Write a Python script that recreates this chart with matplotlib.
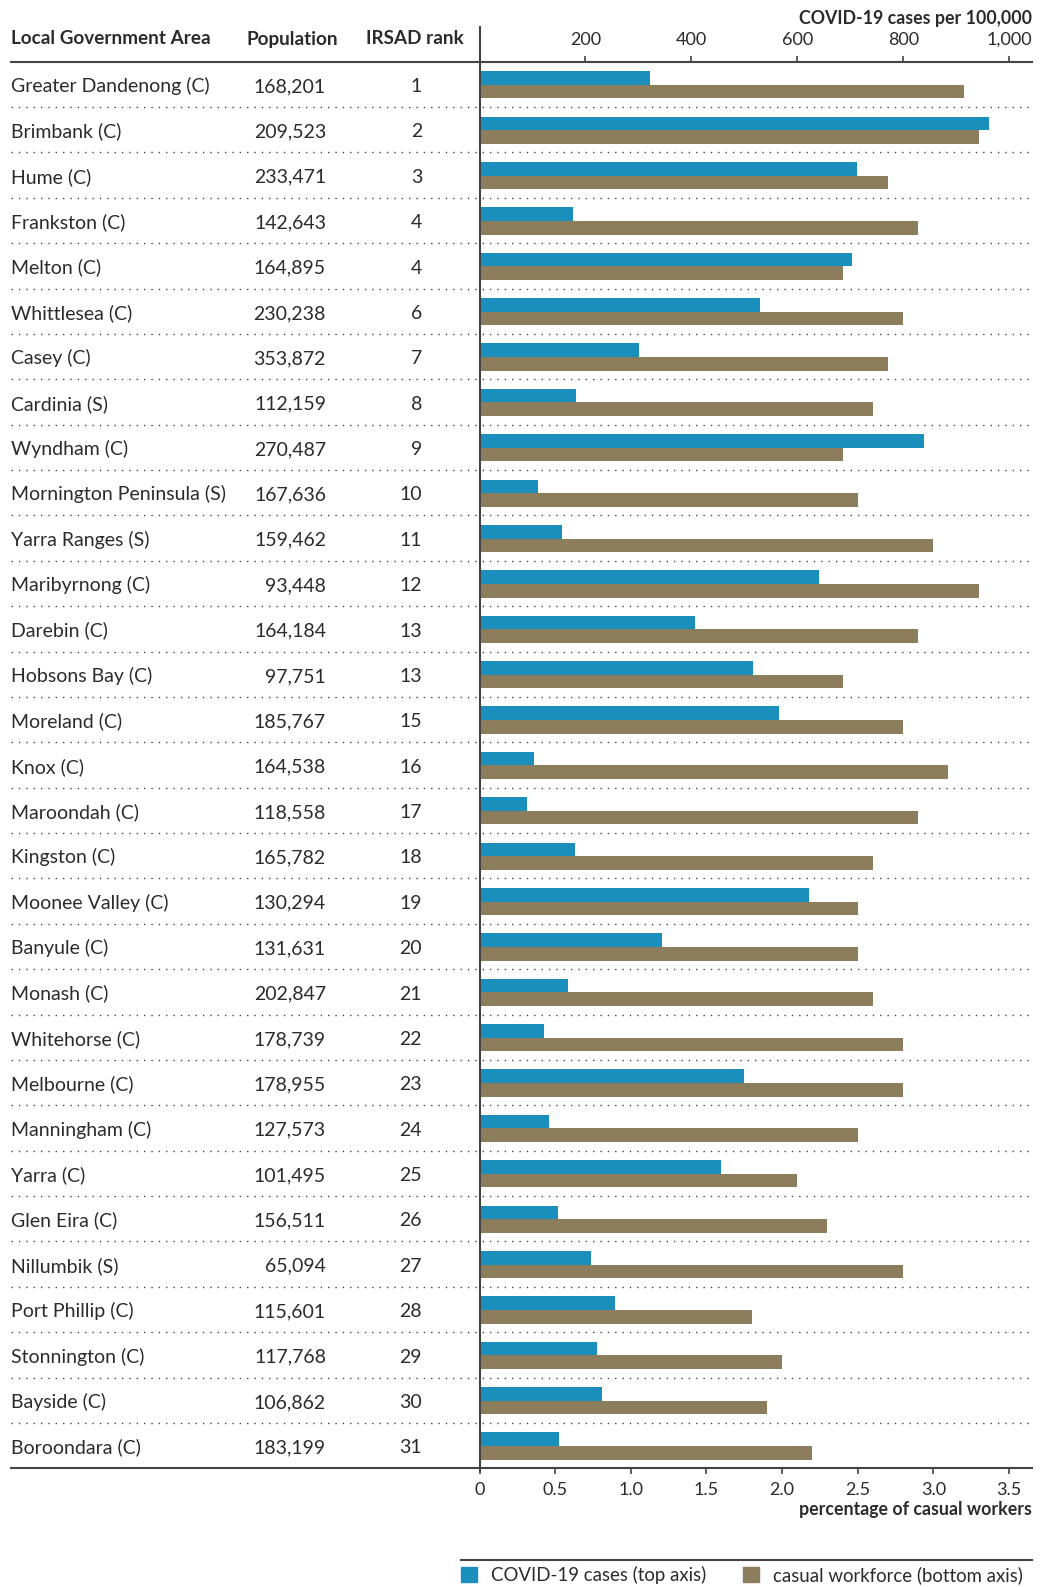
import numpy as np
import matplotlib
matplotlib.use("Agg")
import matplotlib.pyplot as plt
from matplotlib import transforms
from matplotlib.lines import Line2D

plt.rcParams["font.family"] = ["Lato", "DejaVu Sans"]

areas = [
    "Greater Dandenong (C)", "Brimbank (C)", "Hume (C)", "Frankston (C)",
    "Melton (C)", "Whittlesea (C)", "Casey (C)", "Cardinia (S)", "Wyndham (C)",
    "Mornington Peninsula (S)", "Yarra Ranges (S)", "Maribyrnong (C)",
    "Darebin (C)", "Hobsons Bay (C)", "Moreland (C)", "Knox (C)",
    "Maroondah (C)", "Kingston (C)", "Moonee Valley (C)", "Banyule (C)",
    "Monash (C)", "Whitehorse (C)", "Melbourne (C)", "Manningham (C)",
    "Yarra (C)", "Glen Eira (C)", "Nillumbik (S)", "Port Phillip (C)",
    "Stonnington (C)", "Bayside (C)", "Boroondara (C)",
]
population = [
    168201, 209523, 233471, 142643, 164895, 230238, 353872, 112159, 270487,
    167636, 159462, 93448, 164184, 97751, 185767, 164538, 118558, 165782,
    130294, 131631, 202847, 178739, 178955, 127573, 101495, 156511, 65094,
    115601, 117768, 106862, 183199,
]
irsad_rank = [
    1, 2, 3, 4, 4, 6, 7, 8, 9, 10, 11, 12, 13, 13, 15, 16, 17, 18, 19, 20,
    21, 22, 23, 24, 25, 26, 27, 28, 29, 30, 31,
]
# COVID-19 cases per 100,000 (top axis)
covid_cases = [
    321, 961, 712, 176, 702, 529, 301, 182, 838, 110, 155, 640, 406, 517,
    565, 102, 89, 180, 621, 344, 167, 121, 499, 131, 455, 148, 210, 255,
    221, 231, 150,
]
# percentage of casual workers (bottom axis)
casual_pct = [
    3.2, 3.3, 2.7, 2.9, 2.4, 2.8, 2.7, 2.6, 2.4, 2.5, 3.0, 3.3, 2.9, 2.4,
    2.8, 3.1, 2.9, 2.6, 2.5, 2.5, 2.6, 2.8, 2.8, 2.5, 2.1, 2.3, 2.8, 1.8,
    2.0, 1.9, 2.2,
]

BLUE = "#1a8fbb"
BROWN = "#8c7d5c"
INK = "#2b2b2b"
RULE = "#444444"
FS = 14

W, H = 1040, 1587
fig = plt.figure(figsize=(W / 100, H / 100), dpi=100)


def fx(px):
    return px / W


def fy(py):
    return 1 - py / H


AX_L, AX_R, AX_T, AX_B = 479.5, 1031.7, 61.7, 1468.3
TABLE_L = 11

ax = fig.add_axes([fx(AX_L), fy(AX_B), fx(AX_R) - fx(AX_L), fy(AX_T) - fy(AX_B)])
top = ax.twiny()

n = len(areas)
rows = np.arange(n)

top.barh(rows - 0.29, covid_cases, height=0.3, align="edge", color=BLUE, zorder=3)
ax.barh(rows + 0.01, casual_pct, height=0.3, align="edge", color=BROWN, zorder=3)

ax.set_ylim(n - 0.5, -0.5)
ax.set_yticks([])
ax.set_xlim(0, 3.65)
ax.set_xticks(np.arange(0, 3.51, 0.5))
ax.set_xticklabels(["0"] + [f"{v:.1f}" for v in np.arange(0.5, 3.51, 0.5)])
top.set_xlim(0, 1042)
top.set_xticks([200, 400, 600, 800, 1000])
top.set_xticklabels([f"{v:,}" for v in [200, 400, 600, 800, 1000]])

for a in (ax, top):
    for s in a.spines.values():
        s.set_visible(False)
    a.tick_params(axis="x", direction="out", length=4, width=1.2, color=RULE,
                  pad=6, labelsize=13, labelcolor=INK)
top.patch.set_visible(False)

# rules spanning the table and the chart
def hline(y_px, x0, x1, **kw):
    fig.add_artist(Line2D([fx(x0), fx(x1)], [fy(y_px), fy(y_px)],
                          transform=fig.transFigure, **kw))


hline(AX_T, TABLE_L, AX_R, color=RULE, lw=1.5)
hline(AX_B, TABLE_L, AX_R, color=RULE, lw=1.5)
fig.add_artist(Line2D([fx(AX_L), fx(AX_L)], [fy(26.7), fy(AX_B + 3)],
                      transform=fig.transFigure, color=RULE, lw=1.5, zorder=5))

blend = transforms.blended_transform_factory(fig.transFigure, ax.transData)
for i in range(n - 1):
    ax.plot([fx(TABLE_L), fx(AX_R)], [i + 0.5, i + 0.5], transform=blend,
            clip_on=False, color=RULE, lw=1.0, ls=(0, (1, 4.3)), zorder=1)

# table columns
for i in range(n):
    y = i + 0.17
    ax.text(fx(TABLE_L), y, areas[i], transform=blend, ha="left",
            va="baseline", fontsize=FS, color=INK)
    ax.text(fx(326), y, f"{population[i]:,}", transform=blend, ha="right",
            va="baseline", fontsize=FS, color=INK)
    ax.text(fx(422), y, str(irsad_rank[i]), transform=blend, ha="right",
            va="baseline", fontsize=FS, color=INK)

head = dict(fontsize=13.6, fontweight="bold", color=INK, va="center")
fig.text(fx(TABLE_L), fy(39), "Local Government Area", ha="left", **head)
fig.text(fx(292.5), fy(39), "Population", ha="center", **head)
fig.text(fx(415), fy(39), "IRSAD rank", ha="center", **head)
axis_title = dict(fontsize=12.8, fontweight="bold", color=INK, va="center")
fig.text(fx(AX_R), fy(18.5), "COVID-19 cases per 100,000", ha="right", **axis_title)
fig.text(fx(AX_R), fy(1509), "percentage of casual workers", ha="right", **axis_title)

# legend
hline(1560, 461, AX_R, color=RULE, lw=1.5)
handles = [plt.Rectangle((0, 0), 1, 1, color=BLUE),
           plt.Rectangle((0, 0), 1, 1, color=BROWN)]
fig.legend(handles, ["COVID-19 cases (top axis)", "casual workforce (bottom axis)"],
           loc="center left", bbox_to_anchor=(fx(461), fy(1575)), ncol=2,
           frameon=False, fontsize=13.4, handlelength=0.85, handleheight=0.85,
           handletextpad=0.75, columnspacing=2.0, borderpad=0, borderaxespad=0,
           labelcolor=INK)

fig.savefig("out.png", dpi=100, facecolor="white")
